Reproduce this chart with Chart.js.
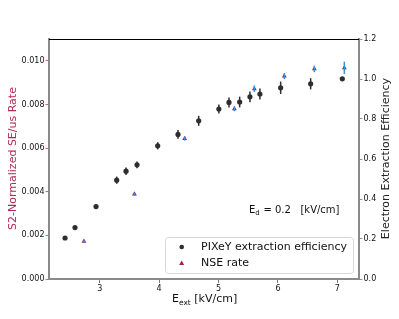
<!DOCTYPE html>
<html>
<head>
<meta charset="utf-8">
<script src="https://cdn.jsdelivr.net/npm/chart.js@4/dist/chart.umd.min.js"></script>
<style>
html,body{margin:0;padding:0;background:#fff;}
#wrap{width:399px;height:319px;position:relative;}
</style>
</head>
<body>
<div id="wrap"><canvas id="c" width="399" height="319"></canvas></div>
<script>
// Data
const effX = [2.416,2.584,2.938,3.286,3.443,3.628,3.976,4.318,4.666,5.006,5.176,5.356,5.529,5.697,6.046,6.551,7.084];
const effY = [0.205,0.257,0.362,0.494,0.539,0.571,0.666,0.723,0.791,0.850,0.883,0.885,0.911,0.925,0.956,0.976,1.001];
const effErr = [0.008,0.008,0.008,0.018,0.019,0.017,0.018,0.022,0.025,0.023,0.025,0.027,0.027,0.027,0.031,0.028,0.005];

const nseX = [2.734,3.584,4.430,5.267,5.603,6.108,6.613,7.118];
const nseY = [0.00173,0.00389,0.00644,0.00780,0.00872,0.00930,0.00963,0.00968];
const nseErr = [0.00007,0.00007,0.00010,0.00011,0.00015,0.00014,0.00015,0.00028];

const xTicks = [3,4,5,6,7];
const leftTicks = [0.000,0.002,0.004,0.006,0.008,0.010];
const rightTicks = [0.0,0.2,0.4,0.6,0.8,1.0,1.2];

const seriesLabels = ['PIXeY extraction efficiency','NSE rate'];
const xTitle = ['E','ext',' [kV/cm]'];
const leftTitle = 'S2-Normalized SE/us Rate';
const rightTitle = 'Electron Extraction Efficiency';
const annot = ['E','d',' = 0.2   [kV/cm]'];

const FONT = '"DejaVu Sans", sans-serif';
const BLACK = '#2e2e2e';
const CRIMSON = '#a8203f';
const TITLE_RED = '#b02a55';
const BLUE = '#3a8ee0';

const extras = {
  id: 'extras',
  afterDatasetsDraw(chart) {
    const ctx = chart.ctx;
    const xs = chart.scales.x, yl = chart.scales.y, yr = chart.scales.y1;
    ctx.save();
    // black error bars
    ctx.strokeStyle = BLACK; ctx.lineWidth = 1.5;
    effX.forEach((x,i)=>{
      const px = xs.getPixelForValue(x);
      ctx.beginPath();
      ctx.moveTo(px, yr.getPixelForValue(effY[i]-effErr[i]));
      ctx.lineTo(px, yr.getPixelForValue(effY[i]+effErr[i]));
      ctx.stroke();
    });
    // blue error bars on triangles
    ctx.strokeStyle = BLUE; ctx.lineWidth = 1.5;
    nseX.forEach((x,i)=>{
      const px = xs.getPixelForValue(x);
      ctx.beginPath();
      ctx.moveTo(px, yl.getPixelForValue(nseY[i]-nseErr[i]));
      ctx.lineTo(px, yl.getPixelForValue(nseY[i]+nseErr[i]));
      ctx.stroke();
    });
    ctx.restore();
  },
  afterDraw(chart) {
    const ctx = chart.ctx;
    const a = chart.chartArea;
    ctx.save();
    // top spine
    ctx.strokeStyle = '#000'; ctx.lineWidth = 1;
    ctx.beginPath(); ctx.moveTo(a.left, a.top+0.5); ctx.lineTo(a.right, a.top+0.5); ctx.stroke();

    // left title
    ctx.fillStyle = TITLE_RED;
    ctx.font = '11px ' + FONT;
    ctx.textAlign = 'center'; ctx.textBaseline = 'middle';
    ctx.save(); ctx.translate(13, 158.5); ctx.rotate(-Math.PI/2); ctx.fillText(leftTitle, 0, 0); ctx.restore();
    // right title
    ctx.fillStyle = '#222';
    ctx.save(); ctx.translate(386, 158.5); ctx.rotate(-Math.PI/2); ctx.fillText(rightTitle, 0, 0); ctx.restore();

    // x title with subscript
    ctx.textAlign = 'left'; ctx.textBaseline = 'alphabetic';
    ctx.fillStyle = '#111';
    let x0 = 172, yb = 302;
    ctx.font = '11px ' + FONT; ctx.fillText(xTitle[0], x0, yb); x0 += ctx.measureText(xTitle[0]).width;
    ctx.font = '7.5px ' + FONT; ctx.fillText(xTitle[1], x0, yb+2.5); x0 += ctx.measureText(xTitle[1]).width;
    ctx.font = '11px ' + FONT; ctx.fillText(xTitle[2], x0, yb);

    // annotation
    x0 = 249; yb = 213;
    ctx.font = '10px ' + FONT; ctx.fillText(annot[0], x0, yb); x0 += ctx.measureText(annot[0]).width;
    ctx.font = '7px ' + FONT; ctx.fillText(annot[1], x0, yb+2); x0 += ctx.measureText(annot[1]).width + 0.5;
    ctx.font = '10px ' + FONT; ctx.fillText(annot[2], x0, yb);

    // legend
    const lx = 165.5, ly = 237.5, lw = 188, lh = 36, r = 3;
    ctx.beginPath();
    ctx.moveTo(lx+r, ly); ctx.lineTo(lx+lw-r, ly); ctx.quadraticCurveTo(lx+lw, ly, lx+lw, ly+r);
    ctx.lineTo(lx+lw, ly+lh-r); ctx.quadraticCurveTo(lx+lw, ly+lh, lx+lw-r, ly+lh);
    ctx.lineTo(lx+r, ly+lh); ctx.quadraticCurveTo(lx, ly+lh, lx, ly+lh-r);
    ctx.lineTo(lx, ly+r); ctx.quadraticCurveTo(lx, ly, lx+r, ly); ctx.closePath();
    ctx.fillStyle = 'rgba(255,255,255,0.85)'; ctx.fill();
    ctx.strokeStyle = '#d8d8d8'; ctx.lineWidth = 1; ctx.stroke();
    // markers
    ctx.fillStyle = BLACK;
    ctx.beginPath(); ctx.arc(181.7, 247, 2.3, 0, Math.PI*2); ctx.fill();
    ctx.fillStyle = CRIMSON;
    ctx.beginPath(); ctx.moveTo(181.7, 260.5); ctx.lineTo(184.2, 265); ctx.lineTo(179.2, 265); ctx.closePath(); ctx.fill();
    ctx.fillStyle = '#111';
    ctx.font = '11px ' + FONT; ctx.textBaseline = 'middle';
    ctx.fillText(seriesLabels[0], 201, 247);
    ctx.fillText(seriesLabels[1], 201, 263);
    ctx.restore();
  }
};

new Chart(document.getElementById('c'), {
  type: 'scatter',
  data: {
    datasets: [
      {
        label: seriesLabels[0],
        data: effX.map((x,i)=>({x:x, y:effY[i]})),
        yAxisID: 'y1',
        pointStyle: 'circle',
        pointRadius: 2.6,
        pointBackgroundColor: BLACK,
        pointBorderWidth: 0,
        showLine: false
      },
      {
        label: seriesLabels[1],
        data: nseX.map((x,i)=>({x:x, y:nseY[i]})),
        yAxisID: 'y',
        pointStyle: 'triangle',
        pointRadius: 2.8,
        pointBackgroundColor: CRIMSON,
        pointBorderWidth: 0,
        showLine: false
      }
    ]
  },
  options: {
    responsive: false,
    animation: false,
    devicePixelRatio: 1,
    layout: { padding: { top: 39, left: 0, right: 0, bottom: 0 } },
    plugins: { legend: { display: false }, tooltip: { enabled: false } },
    scales: {
      x: {
        type: 'linear', min: 2.146, max: 7.365,
        afterBuildTicks: s => { s.ticks = xTicks.map(v=>({value:v})); },
        afterFit: s => { s.height = 40; },
        ticks: { font: { family: FONT, size: 8 }, color: '#111', padding: 1, maxRotation: 0,
                 callback: v => String(v) },
        grid: { drawOnChartArea: false, drawTicks: true, tickLength: 4, color: '#555', tickWidth: 0.8 },
        border: { display: true, color: '#8a8a8a', width: 2 }
      },
      y: {
        type: 'linear', position: 'left', min: 0, max: 0.011,
        afterBuildTicks: s => { s.ticks = leftTicks.map(v=>({value:v})); },
        afterFit: s => { s.width = 49; },
        ticks: { font: { family: FONT, size: 8 }, color: '#111', padding: 1,
                 callback: v => Number(v).toFixed(3) },
        grid: { drawOnChartArea: false, drawTicks: true, tickLength: 3.5, color: '#c04060', tickWidth: 0.8 },
        border: { display: true, color: '#8a8a8a', width: 2 }
      },
      y1: {
        type: 'linear', position: 'right', min: 0, max: 1.2,
        afterBuildTicks: s => { s.ticks = rightTicks.map(v=>({value:v})); },
        afterFit: s => { s.width = 40; },
        ticks: { font: { family: FONT, size: 8 }, color: '#111', padding: 1,
                 callback: v => Number(v).toFixed(1) },
        grid: { drawOnChartArea: false, drawTicks: true, tickLength: 3.5, color: '#777', tickWidth: 0.8 },
        border: { display: true, color: '#8a8a8a', width: 2 }
      }
    }
  },
  plugins: [extras]
});
</script>
</body>
</html>
